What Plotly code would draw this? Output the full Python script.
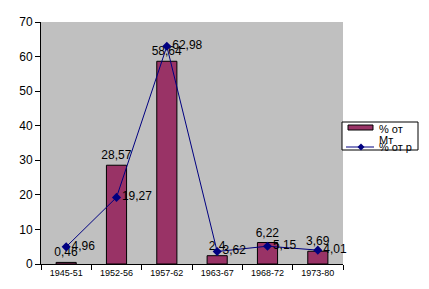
import plotly.graph_objects as go

categories = ["1945-51", "1952-56", "1957-62", "1963-67", "1968-72", "1973-80"]
bar_values = [0.46, 28.57, 58.64, 2.4, 6.22, 3.69]
line_values = [4.96, 19.27, 62.98, 3.62, 5.15, 4.01]
bar_name = "% от Мт"
line_name = "% от р"

def fmt(v):
    return ("%g" % v).replace(".", ",")

# plot area in pixels
L, R, T, B = 41, 343, 22, 264
def px(x):
    return (x - L) / (R - L)
def py(y):
    return (B - y) / (B - T)

FONT = "Arial, Liberation Sans"

fig = go.Figure()
fig.add_trace(go.Bar(
    x=categories, y=bar_values, name=bar_name,
    marker=dict(color="#993366", line=dict(color="black", width=1)),
    width=0.4,
    text=[fmt(v) for v in bar_values], textposition="outside",
    constraintext="none",
    textfont=dict(family=FONT, size=12, color="black"),
    cliponaxis=False, showlegend=False,
))
fig.add_trace(go.Scatter(
    x=categories, y=line_values, name=line_name,
    mode="lines+markers+text",
    line=dict(color="#000080", width=1),
    marker=dict(symbol="diamond", size=7, color="#000080"),
    text=[fmt(v) for v in line_values], textposition="middle right",
    textfont=dict(family=FONT, size=12, color="black"),
    cliponaxis=False, showlegend=False,
))

# manual legend (mimics the small clipped legend box)
shapes = [
    dict(type="rect", xref="paper", yref="paper",
         x0=px(342), x1=px(418), y0=py(150), y1=py(122),
         fillcolor="white", line=dict(color="black", width=1), layer="above"),
    dict(type="rect", xref="paper", yref="paper",
         x0=px(348), x1=px(373), y0=py(130), y1=py(125),
         fillcolor="#993366", line=dict(color="black", width=1), layer="above"),
    dict(type="line", xref="paper", yref="paper",
         x0=px(346), x1=px(374), y0=py(147), y1=py(147),
         line=dict(color="#000080", width=1), layer="above"),
    dict(type="path", xref="paper", yref="paper",
         path="M {a},{b} L {c},{d} L {a},{e} L {f},{d} Z".format(
             a=px(361), b=py(143.5), c=px(364.5), d=py(147), e=py(150.5), f=px(357.5)),
         fillcolor="#000080", line=dict(color="#000080", width=0), layer="above"),
]
annotations = [
    dict(xref="paper", yref="paper", x=px(377), y=py(128.5), text="% от",
         showarrow=False, xanchor="left", yanchor="middle",
         font=dict(family=FONT, size=11, color="black")),
    dict(xref="paper", yref="paper", x=px(377), y=py(140), text="Мт",
         showarrow=False, xanchor="left", yanchor="middle",
         font=dict(family=FONT, size=11, color="black")),
    dict(xref="paper", yref="paper", x=px(377), y=py(146.5), text=line_name,
         showarrow=False, xanchor="left", yanchor="middle",
         font=dict(family=FONT, size=11, color="black")),
]

fig.update_layout(
    width=429, height=289,
    margin=dict(l=L, r=429 - R, t=T, b=289 - B),
    paper_bgcolor="white", plot_bgcolor="#C0C0C0",
    font=dict(family=FONT, size=11, color="black"),
    showlegend=False,
    shapes=shapes, annotations=annotations,
    xaxis=dict(showgrid=False, ticks="outside", tickson="boundaries",
               ticklen=5, tickcolor="black", showline=True, linecolor="black",
               tickfont=dict(size=9), range=[-0.5, 5.5]),
    yaxis=dict(range=[0, 70], dtick=10, showgrid=False, ticks="outside",
               ticklen=5, tickcolor="black", showline=True, linecolor="black",
               zeroline=False, tickfont=dict(size=12)),
)
fig.write_html("out.html")
